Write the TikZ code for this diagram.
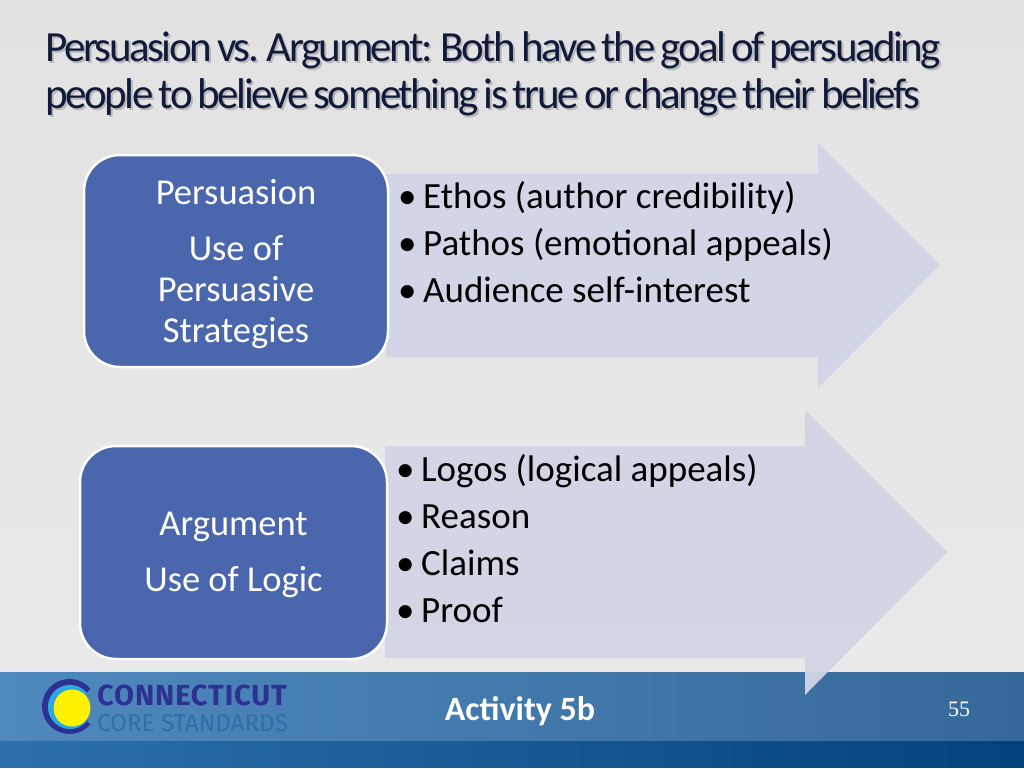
\documentclass[tikz,border=0pt]{standalone}
\usepackage{fontspec}
\setmainfont{Carlito}
\newfontfamily\titlefont[LetterSpace=-5.7,WordSpace=0.7]{Carlito}
\newfontfamily\logofont[LetterSpace=3]{Fira Sans}
\newfontfamily\corefont{Fira Sans}
\newfontfamily\numfont{Liberation Serif}
\definecolor{slidetop}{HTML}{E2E2E2}
\definecolor{slidelow}{HTML}{E9E9E9}
\definecolor{boxblue}{HTML}{4A66AC}
\definecolor{arrowfill}{HTML}{D2D5E5}
\definecolor{titleblue}{HTML}{101B3C}
\definecolor{logodark}{HTML}{2E3192}
\definecolor{logolight}{HTML}{29ABE2}
\definecolor{logostd}{HTML}{2F6FA8}
\definecolor{bandleft}{HTML}{4E89BE}
\definecolor{bandright}{HTML}{366999}
\definecolor{baseleft}{HTML}{2C71AC}
\definecolor{baseright}{HTML}{02427C}
\newcommand{\bul}[1]{\makebox[25pt][l]{•}#1}
\begin{document}
\begin{tikzpicture}[x=1pt, y=-1pt, block/.style = {rectangle, draw=white, line width=2.5pt, fill=boxblue, text=white, align=center, rounded corners=36pt, font=\fontsize{36.5}{41}\selectfont, inner sep=0pt}, tx/.style = {align=left, anchor=north west, inner sep=0pt, font=\fontsize{37}{47}\selectfont, text=black}, head/.style = {align=left, anchor=north west, inner sep=0pt, font=\titlefont\fontsize{43}{47}\selectfont}]
        \useasboundingbox (0, 0) rectangle (1024, 768);
        \fill[top color=slidetop, bottom color=slidelow] (0, 0) rectangle (1024, 672);

        % footer band
        \fill[left color=bandleft, right color=bandright] (0, 672) rectangle (1024, 741);
        \fill[left color=baseleft, right color=baseright] (0, 741) rectangle (1024, 767);

        % arrows
        \fill[arrowfill] (386, 174) -- (818, 174) -- (818, 143) -- (940, 265) -- (818, 388) -- (818, 357) -- (386, 357) -- cycle;
        \fill[arrowfill, opacity=0.95] (385, 446) -- (805, 446) -- (805, 410) -- (947, 552) -- (805, 695) -- (805, 658) -- (385, 658) -- cycle;

        \node[block, minimum width=304pt, minimum height=212pt] (persuasion) at (236, 261) {\rule{0pt}{31pt}Persuasion\\[15pt]Use of\\Persuasive\\Strategies};
        \node[block, minimum width=307pt, minimum height=213pt] (argument) at (233.5, 552.5) {\rule{0pt}{29pt}Argument\\[15pt]Use of Logic};

        \node[tx] (ethos) at (398, 181.5) {\bul{Ethos (author credibility)}\\\bul{Pathos (emotional appeals)}\\\bul{Audience self-interest}};
        \node[tx] (logos) at (396, 454) {\bul{Logos (logical appeals)}\\\bul{Reason}\\\bul{Claims}\\\bul{Proof}};

        \node[head, text=black!28] (shadow) at (47, 33) {Persuasion vs. Argument: Both have the goal of persuading\\people to believe something is true or change their beliefs};
        \node[head, text=titleblue] (title) at (45, 31) {Persuasion vs. Argument: Both have the goal of persuading\\people to believe something is true or change their beliefs};

        % logo
        \draw[logodark, line width=6pt] (69.5, 706.5) ++(40:24.5) arc[start angle=-40, end angle=-320, radius=24.5pt];
        \draw[logolight, line width=5pt] (70, 707) ++(40:19.5) arc[start angle=-40, end angle=-320, radius=19.5pt];
        \fill[yellow] (72, 708) circle (18.5);
        \node[anchor=west, inner sep=0pt, text=logodark, font=\logofont\bfseries\fontsize{29}{29}\selectfont] (ct) at (97, 695) {CONNECTICUT};
        \node[anchor=west, inner sep=0pt, text=logostd, font=\corefont\fontsize{24.2}{25}\selectfont] (core) at (97, 723) {CORE STANDARDS};

        \node[text=white, inner sep=0pt, font=\bfseries\fontsize{34}{34}\selectfont] (activity) at (520, 711) {Activity 5b};
        \node[text=white, inner sep=0pt, font=\numfont\fontsize{22}{22}\selectfont] (page) at (959, 709) {55};
      \end{tikzpicture}
\end{document}
